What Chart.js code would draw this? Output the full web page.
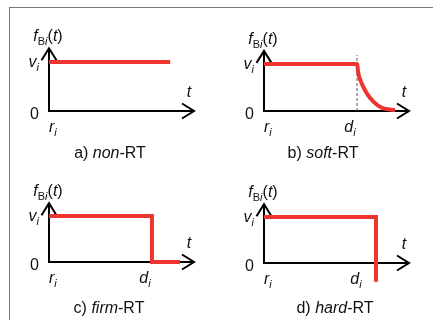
<!DOCTYPE html>
<html><head><meta charset="utf-8">
<script src="https://cdn.jsdelivr.net/npm/chart.js@4/dist/chart.umd.min.js"></script>
<style>
html,body{margin:0;padding:0;background:#fff;}
#wrap{position:relative;width:433px;height:320px;overflow:hidden;background:#fff;}
#frame{position:absolute;left:9px;top:7px;width:440px;height:330px;border-left:1px solid #777;border-top:1px solid #777;}
canvas{position:absolute;left:0;top:0;}
</style></head><body>
<div id="wrap"><div id="frame"></div>
<canvas id="c0" width="433" height="320"></canvas>
<canvas id="c1" width="433" height="320"></canvas>
<canvas id="c2" width="433" height="320"></canvas>
<canvas id="c3" width="433" height="320"></canvas>
</div>
<script>
// ---- data ----
const panelLetters = ['a)', 'b)', 'c)', 'd)'];
const panelKinds = ['non', 'soft', 'firm', 'hard'];
const nonRtT = [0, 8.3];
const nonRtF = [1, 1];
const softRtT = [0, 6.37, 6.46, 6.69, 7.03, 7.49, 8.06, 8.63, 8.97];
const softRtF = [1, 1, 0.80, 0.59, 0.38, 0.20, 0.07, 0.03, 0.02];
const firmRtT = [0, 7.05, 7.05, 8.97];
const firmRtF = [1, 1, 0, 0];
const hardRtT = [0, 7.67, 7.67];
const hardRtF = [1, 1, -0.41];
const deadlines = [null, 6.37, 7.05, 7.67];
const yTickValues = [0, 1];
const yTickNames = ['0', 'v'];
const xTickNames = ['r', 'd'];
const tickSub = 'i';
const axisNameX = 't';

// ---- layout / style ----
const RED = 'rgb(238,52,46)';
const FONT = '"Liberation Sans", Arial, Helvetica, sans-serif';
const Y_MAX = 1.3, Y_MIN = -0.5, X_MAX = 10;
const layouts = [
  {axisX:49,  tipX:195, axisY:111, vY:62,  titleX:110, titleY:158, dShift:-7},
  {axisX:264, tipX:410, axisY:111, vY:64,  titleX:323, titleY:158, dShift:-7},
  {axisX:49,  tipX:195, axisY:262, vY:216, titleX:109, titleY:313, dShift:-7},
  {axisX:264, tipX:410, axisY:263, vY:217, titleX:335, titleY:313, dShift:-20}
];
const series = [[nonRtT, nonRtF], [softRtT, softRtF], [firmRtT, firmRtF], [hardRtT, hardRtF]];

function fontFor(style) {
  const sub = style[0] === 's';
  const it = style.indexOf('i') >= 0;
  return (it ? 'italic ' : '') + (sub ? '11px ' : '16px ') + FONT;
}
function rich(ctx, segs, x, y, align) {
  let w = 0;
  segs.forEach(s => { ctx.font = fontFor(s[1]); w += ctx.measureText(s[0]).width; });
  let cx = align === 'center' ? x - w / 2 : align === 'right' ? x - w : x;
  ctx.textAlign = 'left';
  ctx.textBaseline = 'alphabetic';
  ctx.fillStyle = '#111';
  segs.forEach(s => {
    ctx.font = fontFor(s[1]);
    const dy = s[1][0] === 's' ? 4 : 0;
    ctx.fillText(s[0], cx, y + dy);
    cx += ctx.measureText(s[0]).width;
  });
}

const axesPlugin = {
  id: 'arrowAxes',
  beforeDatasetsDraw(chart, args, opts) {
    const ctx = chart.ctx, xs = chart.scales.x, ys = chart.scales.y;
    const x0 = xs.getPixelForValue(0), y0 = ys.getPixelForValue(yTickValues[0]);
    const xt = xs.getPixelForValue(X_MAX), yt = ys.getPixelForValue(Y_MAX);
    ctx.save();
    ctx.strokeStyle = '#000';
    ctx.lineWidth = 2;
    ctx.lineCap = 'butt';
    ctx.lineJoin = 'miter';
    ctx.beginPath();
    ctx.moveTo(x0, y0 + 1); ctx.lineTo(x0, yt + 1);
    ctx.moveTo(x0 - 1, y0); ctx.lineTo(xt - 1, y0);
    ctx.stroke();
    ctx.beginPath();
    ctx.moveTo(x0 - 7.5, yt + 13); ctx.lineTo(x0, yt + 1); ctx.lineTo(x0 + 7.5, yt + 13);
    ctx.moveTo(xt - 13, y0 - 7.5); ctx.lineTo(xt - 1, y0); ctx.lineTo(xt - 13, y0 + 7.5);
    ctx.stroke();
    ctx.restore();
  },
  afterDatasetsDraw(chart, args, opts) {
    const ctx = chart.ctx, xs = chart.scales.x, ys = chart.scales.y;
    const L = opts.layout, k = opts.index;
    const x0 = xs.getPixelForValue(0), y0 = ys.getPixelForValue(yTickValues[0]);
    const xt = xs.getPixelForValue(X_MAX), yt = ys.getPixelForValue(Y_MAX);
    const yv = ys.getPixelForValue(yTickValues[1]);
    ctx.save();
    // y-axis name f_Bi(t)
    rich(ctx, [['f','i'],['B','sn'],[tickSub,'si'],['(','n'],[axisNameX,'i'],[')','n']], x0 - 1, yt - 6, 'center');
    // y ticks
    rich(ctx, [[yTickNames[0],'n']], x0 - 10, y0 + 8, 'right');
    rich(ctx, [[yTickNames[1],'i'],[tickSub,'si']], x0 - 10, yv + 5, 'right');
    // x ticks
    rich(ctx, [[xTickNames[0],'i'],[tickSub,'si']], x0, y0 + 21, 'left');
    if (deadlines[k] !== null) {
      rich(ctx, [[xTickNames[1],'i'],[tickSub,'si']], xs.getPixelForValue(deadlines[k]) + L.dShift, y0 + 21, 'center');
    }
    // x-axis name
    rich(ctx, [[axisNameX,'i']], xt - 6, y0 - 14, 'center');
    // panel caption
    rich(ctx, [[panelLetters[k] + ' ','n'],[panelKinds[k],'i'],['-RT','n']], L.titleX, L.titleY, 'center');
    ctx.restore();
  }
};

layouts.forEach((L, k) => {
  const u = L.axisY - L.vY;
  const [ts, fs] = series[k];
  const datasets = [{
    data: ts.map((t, i) => ({x: t, y: fs[i]})),
    borderColor: RED,
    borderWidth: 4,
    pointRadius: 0,
    fill: false,
    borderJoinStyle: 'miter',
    borderCapStyle: 'butt',
    cubicInterpolationMode: k === 1 ? 'monotone' : 'default',
    tension: 0,
    clip: false,
    order: 0
  }];
  if (k === 1) {
    datasets.push({
      data: [{x: deadlines[k], y: 0}, {x: deadlines[k], y: 1.19}],
      borderColor: '#555',
      borderWidth: 1,
      borderDash: [3, 2],
      pointRadius: 0,
      fill: false,
      clip: false,
      order: 1
    });
  }
  new Chart(document.getElementById('c' + k), {
    type: 'line',
    data: {datasets},
    options: {
      responsive: false,
      animation: false,
      events: [],
      layout: {padding: {
        left: L.axisX,
        right: 433 - L.tipX,
        top: L.axisY - Y_MAX * u,
        bottom: 320 - (L.axisY - Y_MIN * u)
      }},
      scales: {
        x: {type: 'linear', min: 0, max: X_MAX, display: false},
        y: {type: 'linear', min: Y_MIN, max: Y_MAX, display: false}
      },
      plugins: {
        legend: {display: false},
        tooltip: {enabled: false},
        arrowAxes: {layout: L, index: k}
      }
    },
    plugins: [axesPlugin]
  });
});
</script>
</body></html>
